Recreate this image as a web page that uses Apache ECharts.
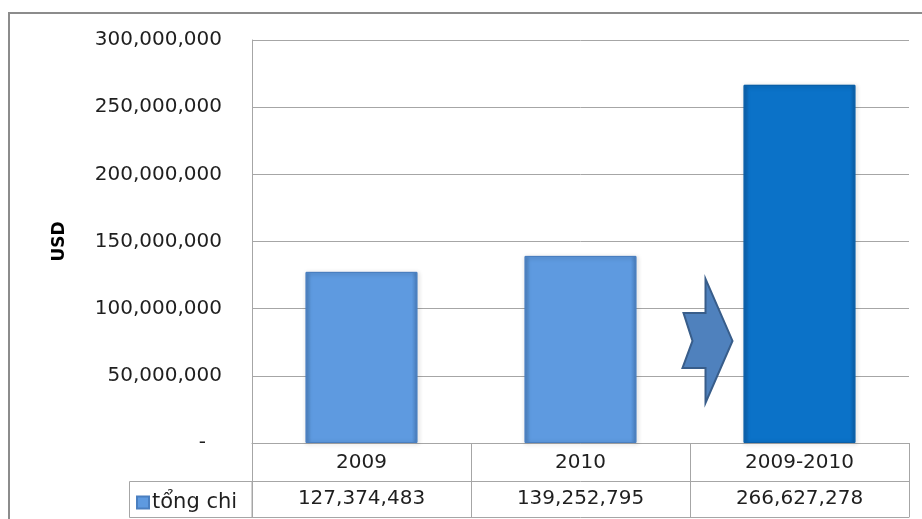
<!DOCTYPE html>
<html>
<head>
<meta charset="utf-8">
<script src="https://cdn.jsdelivr.net/npm/echarts@6/dist/echarts.min.js"></script>
<style>
  html, body { margin: 0; padding: 0; background: #fff; }
  #chart { width: 922px; height: 519px; }
</style>
</head>
<body>
<div id="chart"></div>
<script>
const categories = ['2009', '2010', '2009-2010'];
const values = [127374483, 139252795, 266627278];
const seriesName = 'tổng chi';
const yTicks = { min: 0, max: 300000000, step: 50000000 };

const FONT = 'DejaVu Sans';
const TEXT = '#1f1f1f';
const LINE = '#a6a6a6';

function fmt(v) {
    return String(v).replace(/\B(?=(\d{3})+(?!\d))/g, ',');
}

const chart = echarts.init(document.getElementById('chart'));

const light = new echarts.graphic.LinearGradient(0, 0, 1, 0, [
    { offset: 0, color: '#4f86c6' },
    { offset: 0.05, color: '#5e9ae0' },
    { offset: 0.95, color: '#5e9ae0' },
    { offset: 1, color: '#4a80c0' }
]);
const dark = new echarts.graphic.LinearGradient(0, 0, 1, 0, [
    { offset: 0, color: '#0a62b0' },
    { offset: 0.05, color: '#0b72c8' },
    { offset: 0.95, color: '#0b72c8' },
    { offset: 1, color: '#095ea8' }
]);

const option = {
    animation: false,
    textStyle: { fontFamily: FONT },
    grid: { left: 252, right: 13, top: 40, bottom: 76 },
    legend: {
        data: [seriesName],
        left: 131,
        top: 487,
        icon: 'rect',
        itemWidth: 12,
        itemHeight: 12,
        itemGap: 4,
        textStyle: { fontFamily: FONT, fontSize: 21, color: TEXT, padding: [0, 0, 0, -2] }
    },
    xAxis: [
        {
            type: 'category',
            data: categories,
            axisLine: { lineStyle: { color: LINE } },
            axisTick: { show: true, interval: 0, length: 74, lineStyle: { color: LINE } },
            axisLabel: { fontSize: 20, color: TEXT, margin: 10, interval: 0 }
        },
        {
            type: 'category',
            data: categories,
            position: 'bottom',
            offset: 38,
            axisLine: { lineStyle: { color: LINE } },
            axisTick: { show: false },
            axisLabel: {
                fontSize: 20, color: TEXT, margin: 8, interval: 0,
                formatter: (v, i) => fmt(values[i])
            }
        },
        {
            type: 'category',
            data: categories,
            position: 'bottom',
            offset: 74,
            axisLine: { lineStyle: { color: LINE } },
            axisTick: { show: false },
            axisLabel: { show: false }
        }
    ],
    yAxis: {
        type: 'value',
        min: yTicks.min,
        max: yTicks.max,
        interval: yTicks.step,
        name: 'USD',
        nameLocation: 'middle',
        nameRotate: 90,
        nameGap: 184,
        nameTextStyle: { fontFamily: FONT, fontSize: 17, fontWeight: 'bold', color: '#000' },
        axisLine: { show: true, lineStyle: { color: LINE } },
        axisTick: { show: false },
        splitLine: { lineStyle: { color: LINE } },
        axisLabel: {
            fontSize: 20,
            color: TEXT,
            margin: 30,
            formatter: v => v === 0 ? '{d|-}' : fmt(v),
            rich: { d: { fontSize: 20, color: TEXT, padding: [0, 16, 0, 0] } }
        }
    },
    series: [{
        name: seriesName,
        type: 'bar',
        barWidth: '51%',
        itemStyle: {
            color: light,
            borderColor: '#4a7fc0',
            borderWidth: 1,
            shadowColor: 'rgba(0,0,0,0.3)',
            shadowBlur: 4,
            shadowOffsetX: 1,
            shadowOffsetY: 1
        },
        data: values.map((v, i) => i === 2
            ? { value: v, itemStyle: { color: dark, borderColor: '#0a5fa8' } }
            : v)
    }]
};

chart.setOption(option);

// notched arrow pointing at the total bar
const tipX = chart.convertToPixel({ xAxisIndex: 0 }, categories[2]) - 67;
const tipY = chart.convertToPixel({ yAxisIndex: 0 }, 76000000);
const arrow = [[-27, -62], [0, 0], [-27, 62], [-27, 27], [-50, 27], [-40, 0], [-49, -28], [-27, -28]];

chart.setOption({
    graphic: [
        {
            type: 'rect',
            shape: { x: 9, y: 13, width: 940, height: 540 },
            style: { fill: 'none', stroke: '#8c8c8c', lineWidth: 2 },
            silent: true
        },
        {
            type: 'rect',
            shape: { x: 129.5, y: 481.5, width: 122.5, height: 36 },
            style: { fill: 'none', stroke: LINE, lineWidth: 1 },
            silent: true
        },
        {
            type: 'polygon',
            shape: { points: arrow.map(([x, y]) => [tipX + x, tipY + y]) },
            style: { fill: '#4f81bd', stroke: '#385d8a', lineWidth: 2 },
            z: 10
        }
    ]
});
</script>
</body>
</html>
